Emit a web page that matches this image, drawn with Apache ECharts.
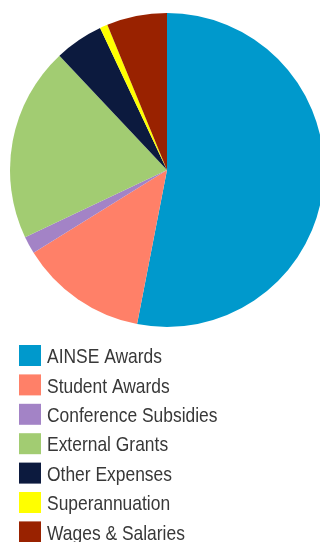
<!DOCTYPE html>
<html>
<head>
<meta charset="utf-8">
<script src="https://cdn.jsdelivr.net/npm/echarts@6/dist/echarts.min.js"></script>
<style>
  html, body { margin: 0; padding: 0; background: #fff; }
  #chart { width: 320px; height: 542px; }
</style>
</head>
<body>
<div id="chart"></div>
<script>
// Expenditure categories and their shares (%)
const categories = [
  'AINSE Awards',
  'Student Awards',
  'Conference Subsidies',
  'External Grants',
  'Other Expenses',
  'Superannuation',
  'Wages & Salaries'
];
const shares = [53.0, 13.1, 1.8, 20.0, 5.0, 0.8, 6.2];
const colors = ['#0099cc', '#ff8068', '#a383c6', '#a2cc72', '#0c1a3e', '#ffff00', '#992200'];

// Legend block geometry
const legendLeft = 19;
const legendTop = 345;
const swatchW = 22;
const swatchH = 21;
const rowGap = 8.4;

const chart = echarts.init(document.getElementById('chart'), null, { renderer: 'canvas' });

// Legend captions set in a narrow face (horizontally condensed sans)
const captions = categories.map((name, i) => ({
  type: 'text',
  x: legendLeft + swatchW + 6,
  y: legendTop + i * (swatchH + rowGap) + swatchH / 2 + 2,
  scaleX: 0.83,
  style: {
    text: name,
    font: '21px "Liberation Sans", Arial, sans-serif',
    fill: '#383838',
    verticalAlign: 'middle',
    align: 'left'
  },
  silent: true
}));

chart.setOption({
  animation: false,
  color: colors,
  legend: {
    orient: 'vertical',
    left: legendLeft,
    top: legendTop,
    height: 240,
    padding: 0,
    itemWidth: swatchW,
    itemHeight: swatchH,
    itemGap: rowGap,
    icon: 'rect',
    selectedMode: false,
    data: categories,
    formatter: () => '',
    textStyle: { fontSize: 1 }
  },
  graphic: captions,
  series: [{
    type: 'pie',
    center: [167, 170],
    radius: 157,
    startAngle: 90,
    clockwise: true,
    label: { show: false },
    labelLine: { show: false },
    emphasis: { disabled: true },
    itemStyle: { borderWidth: 0 },
    data: categories.map((name, i) => ({ name, value: shares[i] }))
  }]
});
</script>
</body>
</html>
